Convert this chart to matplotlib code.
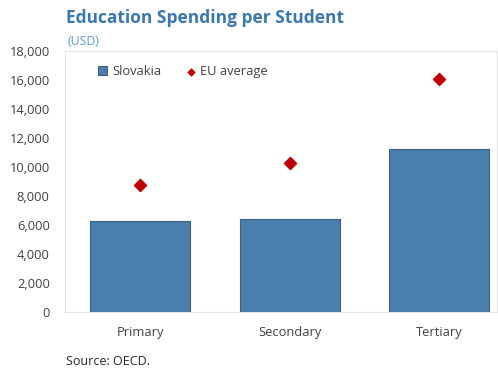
import matplotlib
matplotlib.use("Agg")
import matplotlib.pyplot as plt
import numpy as np

# spending per student, USD
levels = ["Primary", "Secondary", "Tertiary"]
slovakia = [6250, 6400, 11250]
eu_average = [8800, 10300, 16100]
yticks = list(range(0, 18001, 2000))

plt.rcParams['font.family'] = ['Open Sans', 'DejaVu Sans']

fig = plt.figure(figsize=(4.98, 3.68), dpi=100)
ax = fig.add_axes([0.1305, 0.152, 0.8675, 0.709])

x = np.arange(len(levels))
bars = ax.bar(x, slovakia, width=0.67, color='#4a7eac', edgecolor='#3d5f80',
              linewidth=0.8, label='Slovakia', zorder=2)
dots = ax.scatter(x, eu_average, marker='D', s=38, color='#c00000', label='EU average', zorder=3)

ax.set_xlim(-0.506, 2.39)
ax.set_ylim(0, 18000)
ax.set_yticks(yticks)
ax.set_yticklabels([f"{v:,}" for v in yticks])
ax.set_xticks(x)
ax.set_xticklabels(levels)
ax.tick_params(axis='both', length=0, labelsize=9.3, colors='#404040')
ax.tick_params(axis='y', pad=11)
ax.tick_params(axis='x', pad=10)

for s in ax.spines.values():
    s.set_color('#e3e3e3')
    s.set_linewidth(0.8)

leg = ax.legend([bars, dots], ['Slovakia', 'EU average'], loc='upper left',
                bbox_to_anchor=(0.05, 0.99), ncol=2, frameon=False,
                fontsize=9.3, handlelength=0.7, handletextpad=0.4, columnspacing=1.9,
                markerscale=0.55)
for t in leg.get_texts():
    t.set_color('#404040')

fig.text(0.1325, 0.951, "Education Spending per Student", fontsize=12.5, fontweight='bold',
         color='#3b78b0', va='center')
fig.text(0.135, 0.888, "(USD)", fontsize=8.8, color='#5b9bd5', va='center')
fig.text(0.133, 0.019, "Source: OECD.", fontsize=9, color='#262626', va='center')

fig.savefig("out.png", dpi=100)
